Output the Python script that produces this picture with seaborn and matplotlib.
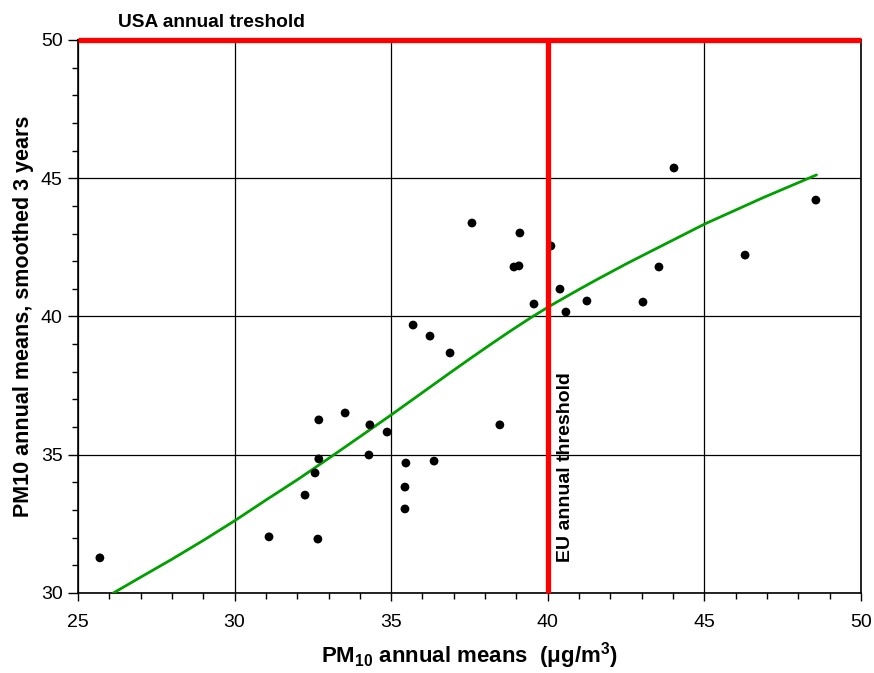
import matplotlib
matplotlib.use("Agg")
import matplotlib.pyplot as plt
import seaborn as sns
import pandas as pd
from matplotlib.ticker import MultipleLocator

# Scatter data: PM10 annual means vs smoothed 3-year means
pm10_annual = [25.70, 31.10, 32.66, 32.25, 32.57, 32.69, 32.69, 33.53, 34.32, 34.29,
               34.87, 35.47, 35.44, 35.44, 36.37, 35.70, 36.24, 36.88, 37.58, 38.47,
               38.92, 39.08, 39.11, 39.56, 40.10, 40.39, 40.58, 41.25, 43.04, 43.55,
               44.03, 46.30, 48.56]
pm10_smoothed = [31.27, 32.03, 31.95, 33.54, 34.34, 34.85, 36.26, 36.51, 36.08, 34.99,
                 35.82, 34.70, 33.83, 33.04, 34.77, 39.69, 39.29, 38.68, 43.38, 36.08,
                 41.79, 41.83, 43.02, 40.45, 42.55, 40.99, 40.16, 40.56, 40.52, 41.79,
                 45.37, 42.22, 44.21]

# Smooth fitted curve
fit_x = [26.13, 27.0, 28.0, 29.0, 30.0, 31.0, 32.05, 33.2, 34.0, 35.0, 36.0, 36.9,
         37.5, 38.15, 38.8, 39.45, 40.07, 41.0, 41.56, 42.5, 43.47, 45.02, 46.0, 46.88,
         48.58]
fit_y = [30.00, 30.57, 31.22, 31.90, 32.61, 33.36, 34.13, 35.02, 35.65, 36.44, 37.25, 37.98,
         38.46, 38.97, 39.47, 39.95, 40.38, 40.98, 41.33, 41.90, 42.46, 43.35, 43.85, 44.30,
         45.12]

usa_threshold = 50
eu_threshold = 40

x_ticks = [25, 30, 35, 40, 45, 50]
y_ticks = [30, 35, 40, 45, 50]

sns.set_style("white")
plt.rcParams['font.family'] = ['Liberation Sans', 'DejaVu Sans']
plt.rcParams['mathtext.fontset'] = 'custom'
plt.rcParams['mathtext.rm'] = 'Liberation Sans'
plt.rcParams['mathtext.bf'] = 'Liberation Sans:bold'
plt.rcParams['mathtext.it'] = 'Liberation Sans:italic'
plt.rcParams['text.color'] = 'black'
plt.rcParams['axes.labelcolor'] = 'black'
plt.rcParams['xtick.color'] = 'black'
plt.rcParams['ytick.color'] = 'black'

fig = plt.figure(figsize=(8.74, 6.73), dpi=100)
ax = fig.add_axes([0.0892, 0.1189, 0.9851 - 0.0892, 0.9406 - 0.1189])

df = pd.DataFrame({"x": pm10_annual, "y": pm10_smoothed})
fit = pd.DataFrame({"x": fit_x, "y": fit_y})

ax.grid(True, color="black", linewidth=0.9, zorder=0)
ax.set_axisbelow(True)

sns.lineplot(data=fit, x="x", y="y", ax=ax, color="#00a000", linewidth=2.0, zorder=3,
             sort=False)
sns.scatterplot(data=df, x="x", y="y", ax=ax, color="black", s=40, edgecolor="none",
                zorder=4)

ax.plot([25, 50], [usa_threshold, usa_threshold], color="#ff0000", linewidth=3.8,
        clip_on=False, zorder=5, solid_capstyle="butt")
ax.plot([eu_threshold, eu_threshold], [30, 50], color="#ff0000", linewidth=3.8,
        clip_on=False, zorder=5, solid_capstyle="butt")

ax.set_xlim(25, 50)
ax.set_ylim(30, 50)
ax.set_xticks(x_ticks)
ax.set_yticks(y_ticks)
ax.xaxis.set_minor_locator(MultipleLocator(1))
ax.yaxis.set_minor_locator(MultipleLocator(1))
ax.tick_params(axis="x", which="major", direction="out", length=6, width=1,
               labelsize=14, bottom=True, pad=9)
ax.tick_params(axis="y", which="major", direction="out", length=7, width=1,
               labelsize=14, left=True, pad=4)
ax.tick_params(axis="both", which="minor", direction="out", length=4, width=1,
               bottom=True, left=True)

for s in ax.spines.values():
    s.set_color("black")
    s.set_linewidth(1.2)

ax.set_xlabel(r"PM$_{\mathbf{10}}$ annual means  ($\mathbf{\mu}$g/m$^{\mathbf{3}}$)",
              fontsize=16, fontweight="bold", labelpad=7)
ax.set_ylabel("PM10 annual means, smoothed 3 years", fontsize=15.5, fontweight="bold",
              labelpad=5)

ax.text(26.28, 50.47, "USA annual treshold", fontsize=13.8, fontweight="bold",
        ha="left", va="baseline")
ax.text(40.28, 31.12, "EU annual threshold", fontsize=14, fontweight="bold", rotation=90,
        ha="left", va="bottom")

fig.savefig("out.png", dpi=100)
